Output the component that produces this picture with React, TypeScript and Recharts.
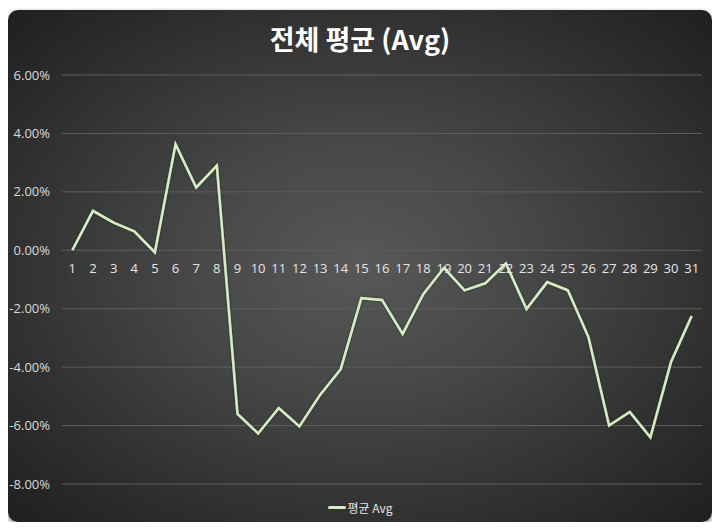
import React from "react";
import {
  LineChart,
  Line,
  XAxis,
  YAxis,
  CartesianGrid,
} from "recharts";

const days = [
  "1", "2", "3", "4", "5", "6", "7", "8", "9", "10",
  "11", "12", "13", "14", "15", "16", "17", "18", "19", "20",
  "21", "22", "23", "24", "25", "26", "27", "28", "29", "30", "31",
];

// 평균 수익률 (%)
const avgValues = [
  0.0, 1.35, 0.95, 0.65, -0.07, 3.63, 2.15, 2.9, -5.6, -6.27,
  -5.4, -6.03, -4.95, -4.07, -1.64, -1.7, -2.86, -1.5, -0.6, -1.37,
  -1.13, -0.45, -2.01, -1.09, -1.37, -2.97, -6.0, -5.53, -6.4, -3.82,
  -2.25,
];

const yTicks = [6, 4, 2, 0, -2, -4, -6, -8];
const yMin = -8;
const yMax = 6;

const data = days.map((d, i) => ({ day: d, avg: avgValues[i] }));

const W = 704;
const H = 512;
const margin = { top: 65, right: 10, bottom: 37, left: 4 };
const plotHeight = H - margin.top - margin.bottom - 1;
const plotWidth = W - margin.left - margin.right - 50;
const halfBand = plotWidth / days.length / 2;

// x-axis labels sit right under the 0% line
const DayTick = (props: any) => {
  const { x, y, payload } = props;
  const lift = (plotHeight * (0 - yMin)) / (yMax - yMin);
  return (
    <text
      x={x}
      y={y - lift + 15}
      textAnchor="middle"
      fill="#e6e6e6"
      fontSize={13}
      fontFamily="'Open Sans', 'Noto Sans', sans-serif"
    >
      {payload.value}
    </text>
  );
};

export default function App() {
  return (
    <div
      style={{
        width: W,
        height: H,
        marginTop: 2,
        borderRadius: 10,
        position: "relative",
        background:
          "radial-gradient(ellipse at 50% 50%, #585858 0%, #474747 35%, #2b2b2b 80%, #1f1f1f 100%)",
        boxShadow: "0 2px 5px rgba(0,0,0,0.55)",
        overflow: "hidden",
      }}
    >
      <div
        style={{
          position: "absolute",
          top: 9,
          width: "100%",
          textAlign: "center",
          color: "#ffffff",
          fontFamily: "'Noto Sans CJK KR', sans-serif",
          fontWeight: 700,
          fontSize: 27,
        }}
      >
        전체 평균 (Avg)
      </div>
      <LineChart width={W} height={H} data={data} margin={margin}>
        <defs>
          <filter id="lineShadow" x="-5%" y="-5%" width="110%" height="110%">
            <feDropShadow dx="0" dy="0" stdDeviation="0.8" floodColor="#1a2a14" floodOpacity="1" />
          </filter>
        </defs>
        <CartesianGrid
          horizontal={true}
          vertical={false}
          stroke="#5e5e5e"
          strokeWidth={1}
        />
        <XAxis
          dataKey="day"
          axisLine={false}
          tickLine={false}
          interval={0}
          height={1}
          padding={{ left: halfBand, right: halfBand }}
          tick={<DayTick />}
        />
        <YAxis
          width={50}
          domain={[yMin, yMax]}
          ticks={yTicks}
          axisLine={false}
          tickLine={false}
          tickMargin={6}
          tickFormatter={(v: number) => `${v.toFixed(2)}%`}
          tick={{
            fill: "#d9d9d9",
            fontSize: 13,
            fontFamily: "'Open Sans', 'Noto Sans', sans-serif",
          }}
        />
        <Line
          type="linear"
          dataKey="avg"
          name="평균 Avg"
          stroke="#d6ecc6"
          strokeWidth={2.5}
          dot={false}
          filter="url(#lineShadow)"
          isAnimationActive={false}
        />
      </LineChart>
      <div
        style={{
          position: "absolute",
          bottom: 6,
          width: "100%",
          display: "flex",
          justifyContent: "center",
          alignItems: "center",
          fontFamily: "'Noto Sans CJK KR', sans-serif",
          fontSize: 12,
          color: "#e6e6e6",
        }}
      >
        <span
          style={{
            display: "inline-block",
            width: 18,
            height: 3,
            background: "#d6ecc6",
            borderRadius: 2,
            marginRight: 2,
          }}
        />
        평균 Avg
      </div>
    </div>
  );
}
